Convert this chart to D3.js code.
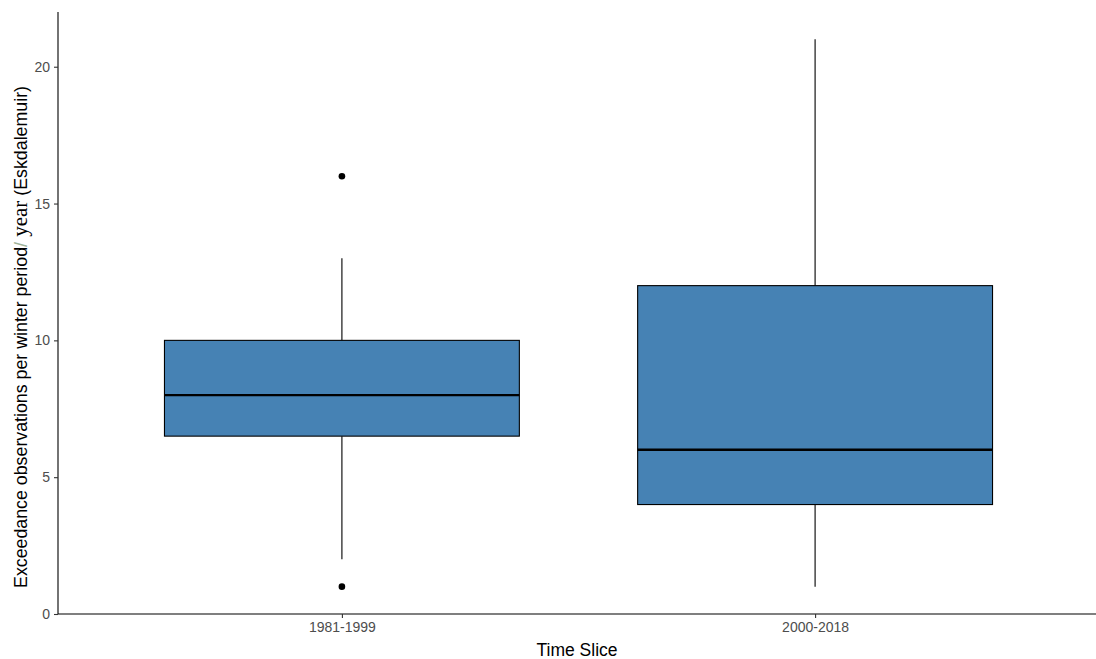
<!DOCTYPE html>
<html>
<head>
<meta charset="utf-8">
<script src="https://cdn.jsdelivr.net/npm/d3@7"></script>
<style>
  body { margin: 0; background: #fff; }
  svg { display: block; }
  .serif { font-family: "Liberation Serif", "DejaVu Serif", serif; }
</style>
</head>
<body>
<svg id="chart" width="1096" height="659"></svg>
<script>
// Box-plot summaries per time slice
const categories = ["1981-1999", "2000-2018"];
const lowerWhisker = [2, 1];
const q1 = [6.5, 4];
const median = [8, 6];
const q3 = [10, 12];
const upperWhisker = [13, 21];
const outliers = [[16, 1], []];
const yTicks = [0, 5, 10, 15, 20];

const W = 1096, H = 659;
const margin = { left: 58, right: 0, top: 12, bottom: 45 };
const svg = d3.select("#chart");

// Discrete x positions 1..n with 0.6 expansion on each side
const x = d3.scaleLinear()
  .domain([0.4, categories.length + 0.6])
  .range([margin.left, W + 3]);
const y = d3.scaleLinear()
  .domain([0, 22])
  .range([H - margin.bottom, margin.top]);

const boxW = 0.75 * (x(2) - x(1));

// Axes
const xAxis = d3.axisBottom(x)
  .tickValues(categories.map((d, i) => i + 1))
  .tickFormat((d) => categories[d - 1])
  .tickSizeOuter(0).tickSize(4).tickPadding(4);
const yAxis = d3.axisLeft(y)
  .tickValues(yTicks)
  .tickSizeOuter(0).tickSize(4).tickPadding(4);

const gx = svg.append("g")
  .attr("transform", `translate(0,${y(0)})`)
  .call(xAxis);
gx.select(".domain").attr("d", `M${margin.left},0H${W}`);
const gy = svg.append("g")
  .attr("transform", `translate(${margin.left},0)`)
  .call(yAxis);
gy.select(".domain").attr("d", `M0,${y(0)}V${margin.top}`);

[gx, gy].forEach((g) => {
  g.select(".domain").attr("stroke", "#000").attr("stroke-width", 1.1);
  g.selectAll(".tick line").attr("stroke", "#333").attr("stroke-width", 1.1);
  g.selectAll(".tick text")
    .attr("fill", "#4D4D4D")
    .style("font-family", "Arial, 'Liberation Sans', sans-serif")
    .style("font-size", "14px");
});

// Boxes
const data = categories.map((c, i) => ({
  i: i + 1, lo: lowerWhisker[i], q1: q1[i], med: median[i], q3: q3[i],
  hi: upperWhisker[i], out: outliers[i]
}));

const boxes = svg.append("g").selectAll("g").data(data).join("g");

boxes.append("line")
  .attr("x1", (d) => x(d.i)).attr("x2", (d) => x(d.i))
  .attr("y1", (d) => y(d.q3)).attr("y2", (d) => y(d.hi))
  .attr("stroke", "#000").attr("stroke-width", 1.1);
boxes.append("line")
  .attr("x1", (d) => x(d.i)).attr("x2", (d) => x(d.i))
  .attr("y1", (d) => y(d.q1)).attr("y2", (d) => y(d.lo))
  .attr("stroke", "#000").attr("stroke-width", 1.1);

boxes.append("rect")
  .attr("x", (d) => x(d.i) - boxW / 2)
  .attr("width", boxW)
  .attr("y", (d) => y(d.q3))
  .attr("height", (d) => y(d.q1) - y(d.q3))
  .attr("fill", "#4682B4")
  .attr("stroke", "#000").attr("stroke-width", 1.1);

boxes.append("line")
  .attr("x1", (d) => x(d.i) - boxW / 2).attr("x2", (d) => x(d.i) + boxW / 2)
  .attr("y1", (d) => y(d.med)).attr("y2", (d) => y(d.med))
  .attr("stroke", "#000").attr("stroke-width", 2.4);

boxes.selectAll("circle").data((d) => d.out.map((v) => ({ i: d.i, v })))
  .join("circle")
  .attr("cx", (d) => x(d.i)).attr("cy", (d) => y(d.v))
  .attr("r", 3.3).attr("fill", "#000");

// Axis titles
svg.append("text")
  .attr("x", (margin.left + W) / 2).attr("y", 656)
  .attr("text-anchor", "middle")
  .style("font-family", "Arial, 'Liberation Sans', sans-serif")
  .style("font-size", "17.5px").attr("fill", "#000")
  .text("Time Slice");

const yt = svg.append("text")
  .attr("transform", `translate(27,337) rotate(-90)`)
  .attr("text-anchor", "middle")
  .style("font-family", "Arial, 'Liberation Sans', sans-serif")
  .style("font-size", "17.8px").attr("fill", "#000");
yt.append("tspan").text("Exceedance observations per winter period");
yt.append("tspan").attr("fill", "#9FB39A").text("/");
yt.append("tspan").attr("class", "serif")
  .style("font-family", "'Liberation Serif', 'DejaVu Serif', serif")
  .style("font-size", "21px").text(" year");
yt.append("tspan").text(" (Eskdalemuir)");
</script>
</body>
</html>
